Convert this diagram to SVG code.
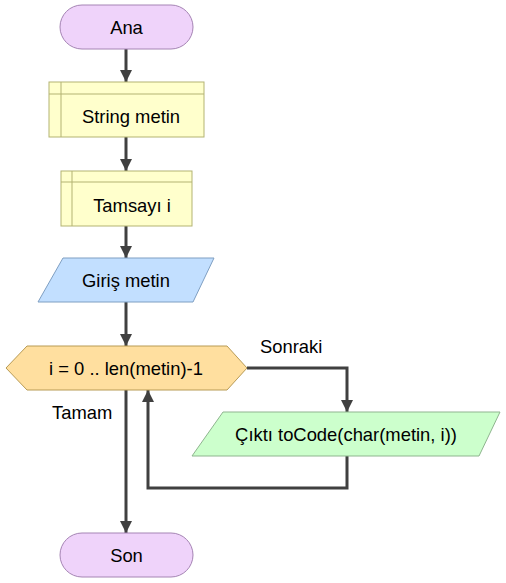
<svg xmlns="http://www.w3.org/2000/svg" width="506" height="583" viewBox="0 0 506 583">
<style>
text{font-family:"Liberation Sans",Arial,sans-serif;font-size:18.4px;fill:#000}
.c{text-anchor:middle;dominant-baseline:central}
.term{fill:#EFD3FA;stroke:#A584B4;stroke-width:1}
.decl{fill:#FFFFCC;stroke:#B3B373;stroke-width:1}
.inp{fill:#C2DFFF;stroke:#7F9FC2;stroke-width:1}
.loop{fill:#FFDF9F;stroke:#B89B55;stroke-width:1}
.out{fill:#CCFFCC;stroke:#8FB58F;stroke-width:1}
.edge{fill:none;stroke:#404040;stroke-width:3}
</style>
<defs>
<marker id="ah" viewBox="0 0 10 10" refX="10" refY="5" markerWidth="4" markerHeight="4" orient="auto" markerUnits="strokeWidth">
<path d="M0,0 L10,5 L0,10 z" fill="#404040"/>
</marker>
</defs>
<g id="connectors">
<path class="edge" d="M126,49 V82" marker-end="url(#ah)"/>
<path class="edge" d="M126,137 V171" marker-end="url(#ah)"/>
<path class="edge" d="M126,226 V258" marker-end="url(#ah)"/>
<path class="edge" d="M126,302 V346" marker-end="url(#ah)"/>
<path class="edge" d="M247,368 H347 V412" marker-end="url(#ah)"/>
<path class="edge" d="M347,456 V488 H148 V390" marker-end="url(#ah)"/>
<path class="edge" d="M126,390 V533" marker-end="url(#ah)"/>
<text x="260" y="353">Sonraki</text>
<text x="52" y="419">Tamam</text>
</g>
<g id="ana">
<rect class="term" x="60" y="5" width="133" height="44" rx="22" ry="22"/>
<text class="c" x="126.5" y="27">Ana</text>
</g>
<g id="string-metin">
<rect class="decl" x="49" y="82" width="155" height="55"/>
<path class="decl" d="M61,82 V137 M49,94 H204" fill="none"/>
<text class="c" x="131" y="116">String metin</text>
</g>
<g id="tamsayi-i">
<rect class="decl" x="61" y="171" width="131" height="55"/>
<path class="decl" d="M72,171 V226 M61,182 H192" fill="none"/>
<text class="c" x="132" y="205">Tamsayı i</text>
</g>
<g id="giris-metin">
<polygon class="inp" points="63,258 214,258 193,302 38,302"/>
<text class="c" x="126" y="280">Giriş metin</text>
</g>
<g id="loop">
<polygon class="loop" points="6,368 27,346 227,346 247,368 227,390 27,390"/>
<text class="c" x="126" y="368">i = 0 .. len(metin)-1</text>
</g>
<g id="cikti">
<polygon class="out" points="223,412 500,412 479,456 192,456"/>
<text class="c" x="346" y="434">Çıktı toCode(char(metin, i))</text>
</g>
<g id="son">
<rect class="term" x="60" y="533" width="133" height="44" rx="22" ry="22"/>
<text class="c" x="126.5" y="555">Son</text>
</g>
</svg>
